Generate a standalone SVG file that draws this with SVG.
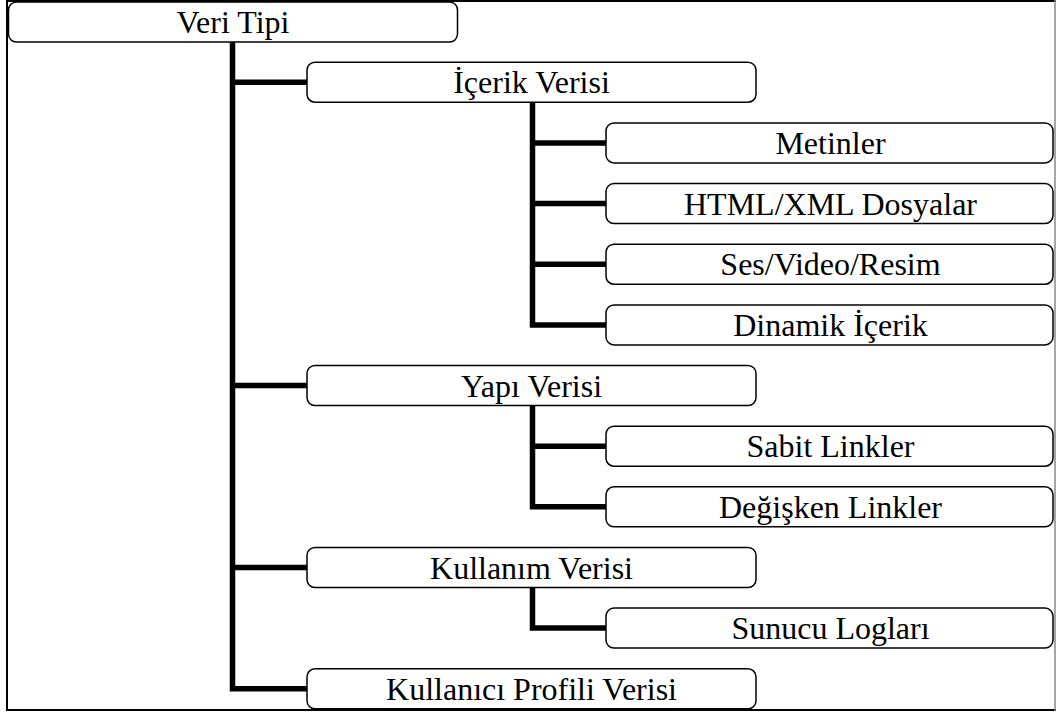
<svg xmlns="http://www.w3.org/2000/svg" width="1056" height="715" viewBox="0 0 1056 715">
<style>
.box{fill:#fff;stroke:#000;stroke-width:1.5}
.lbl{font-family:'Liberation Serif','DejaVu Serif',serif;font-size:32px;fill:#000;text-anchor:middle}
.con{fill:none;stroke:#000;stroke-width:5.5;stroke-linejoin:miter;stroke-linecap:butt}
</style>
<rect x="0" y="0" width="1056" height="715" fill="#fff"/>
<g id="frame">
<line x1="6" y1="1" x2="1056" y2="1" stroke="#000" stroke-width="2"/>
<line x1="7" y1="0" x2="7" y2="711" stroke="#000" stroke-width="2"/>
<line x1="6" y1="710" x2="1056" y2="710" stroke="#000" stroke-width="2"/>
<line x1="1055" y1="0" x2="1055" y2="711" stroke="#888" stroke-width="1.5"/>
</g>
<g id="connectors">
<path class="con" d="M232.5 42 V688.8 H307"/>
<path class="con" d="M232.5 82.2 H307 M232.5 385.5 H307 M232.5 567.5 H307"/>
<path class="con" d="M532.5 102 V324.9 H606"/>
<path class="con" d="M532.5 142.9 H606 M532.5 203.6 H606 M532.5 264.2 H606"/>
<path class="con" d="M532.5 405.5 V506.8 H606"/>
<path class="con" d="M532.5 446.2 H606"/>
<path class="con" d="M532.5 587.5 V628.1 H606"/>
</g>
<g id="n-veri-tipi"><rect class="box" x="8.5" y="2" width="449" height="40" rx="8"/><text class="lbl" x="233" y="33">Veri Tipi</text></g>
<g id="n-icerik"><rect class="box" x="307" y="62.2" width="449" height="40" rx="8"/><text class="lbl" x="531.5" y="93.4">İçerik Verisi</text></g>
<g id="n-metinler"><rect class="box" x="606" y="122.9" width="447" height="40" rx="8"/><text class="lbl" x="830.5" y="154.1">Metinler</text></g>
<g id="n-html"><rect class="box" x="606" y="183.6" width="447" height="40" rx="8"/><text class="lbl" x="830.5" y="214.8">HTML/XML Dosyalar</text></g>
<g id="n-ses"><rect class="box" x="606" y="244.2" width="447" height="40" rx="8"/><text class="lbl" x="830.5" y="275.4">Ses/Video/Resim</text></g>
<g id="n-dinamik"><rect class="box" x="606" y="304.9" width="447" height="40" rx="8"/><text class="lbl" x="830.5" y="336.1">Dinamik İçerik</text></g>
<g id="n-yapi"><rect class="box" x="307" y="365.5" width="449" height="40" rx="8"/><text class="lbl" x="531.5" y="396.7">Yapı Verisi</text></g>
<g id="n-sabit"><rect class="box" x="606" y="426.2" width="447" height="40" rx="8"/><text class="lbl" x="830.5" y="457.4">Sabit Linkler</text></g>
<g id="n-degisken"><rect class="box" x="606" y="486.8" width="447" height="40" rx="8"/><text class="lbl" x="830.5" y="518">Değişken Linkler</text></g>
<g id="n-kullanim"><rect class="box" x="307" y="547.5" width="449" height="40" rx="8"/><text class="lbl" x="531.5" y="578.7">Kullanım Verisi</text></g>
<g id="n-sunucu"><rect class="box" x="606" y="608.1" width="447" height="40" rx="8"/><text class="lbl" x="830.5" y="639.3">Sunucu Logları</text></g>
<g id="n-kullanici"><rect class="box" x="307" y="668.8" width="449" height="40" rx="8"/><text class="lbl" x="531.5" y="700">Kullanıcı Profili Verisi</text></g>
</svg>
